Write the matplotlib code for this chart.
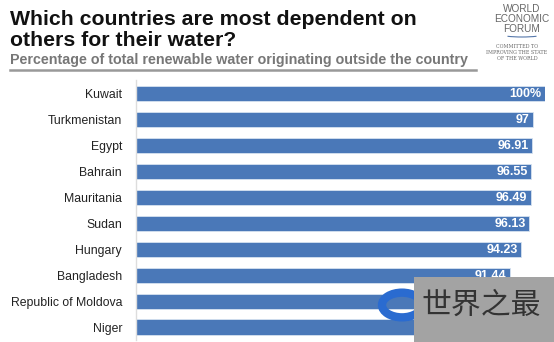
import matplotlib
matplotlib.use("Agg")
import matplotlib.pyplot as plt
from matplotlib.patches import Rectangle, Circle, Arc

plt.rcParams["font.family"] = ["Liberation Sans", "DejaVu Sans"]

countries = ["Kuwait", "Turkmenistan", "Egypt", "Bahrain", "Mauritania", "Sudan",
             "Hungary", "Bangladesh", "Republic of Moldova", "Niger"]
values = [100, 97, 96.91, 96.55, 96.49, 96.13, 94.23, 91.44, 91.41, 89.61]
# the last two value labels are hidden by the watermark in the reference
value_labels = ["100%", "97", "96.91", "96.55", "96.49", "96.13", "94.23", "91.44", None, None]

W, H = 554, 342
fig = plt.figure(figsize=(W/100, H/100), dpi=100)
fig.patch.set_facecolor("white")

def fx(px): return px / W
def fy(py): return 1 - py / H

ax = fig.add_axes([fx(136), fy(340), fx(545) - fx(136), fy(80) - fy(340)])
pos = list(range(len(countries)))
bar_color = "#4a78b8"
ax.barh(pos, values, height=0.58, color=bar_color, edgecolor="#d6e2f0", linewidth=0.6)
ax.set_xlim(0, 100)
ax.set_ylim(9.5, -0.51)
ax.set_yticks(pos)
ax.set_yticklabels(countries, fontsize=8.8, color="#222222")
ax.tick_params(axis="y", length=0, pad=10)
ax.set_xticks([])
for s in ["top", "right", "bottom"]:
    ax.spines[s].set_visible(False)
ax.spines["left"].set_color("#dddddd")
ax.spines["left"].set_linewidth(1)
for p, v, lab in zip(pos, values, value_labels):
    if lab is None:
        continue
    ax.text(v - 0.8, p + 0.03, lab, ha="right", va="center", color="white",
            fontsize=9, fontweight="bold")

# Titles
fig.text(fx(10), fy(25), "Which countries are most dependent on", fontsize=15.3,
         fontweight="bold", color="#111111", ha="left", va="baseline")
fig.text(fx(10), fy(46.5), "others for their water?", fontsize=15.3,
         fontweight="bold", color="#111111", ha="left", va="baseline")
fig.text(fx(10), fy(64), "Percentage of total renewable water originating outside the country",
         fontsize=10.3, fontweight="bold", color="#777777", ha="left", va="baseline")
fig.add_artist(plt.Line2D([fx(10), fx(476)], [fy(70), fy(70)], color="#999999", linewidth=1.8))

# WEF logo (text)
fig.text(fx(522), fy(9), "WORLD", fontsize=7.2, color="#666666", ha="center", va="center")
fig.text(fx(522), fy(19), "ECONOMIC", fontsize=7.2, color="#666666", ha="center", va="center")
fig.text(fx(522), fy(29), "FORUM", fontsize=7.2, color="#666666", ha="center", va="center")
fig.add_artist(Arc((fx(522), fy(33)), fx(50), 8 / H, theta1=200, theta2=340,
                   color="#5577aa", linewidth=0.8, transform=fig.transFigure))
for i, t in enumerate(["COMMITTED TO", "IMPROVING THE STATE", "OF THE WORLD"]):
    fig.text(fx(517), fy(47 + i * 5.5), t, fontsize=3.4, color="#666666",
             family="DejaVu Serif", ha="center", va="center")

# Watermark
fig.add_artist(Circle((fx(402), fy(305)), 20 / W, transform=fig.transFigure,
                      facecolor="none", edgecolor="#2a6bd0", linewidth=6))
fig.add_artist(Rectangle((fx(414), fy(342)), fx(554) - fx(414), fy(277) - fy(342),
                         transform=fig.transFigure, facecolor="#a3a3a3", edgecolor="none"))
fig.text(fx(481), fy(305), "世界之最", fontsize=21.5, color="#333333",
         family=["Noto Sans CJK SC", "DejaVu Sans"], ha="center", va="center")

fig.savefig("out.png", dpi=100, facecolor="white")
